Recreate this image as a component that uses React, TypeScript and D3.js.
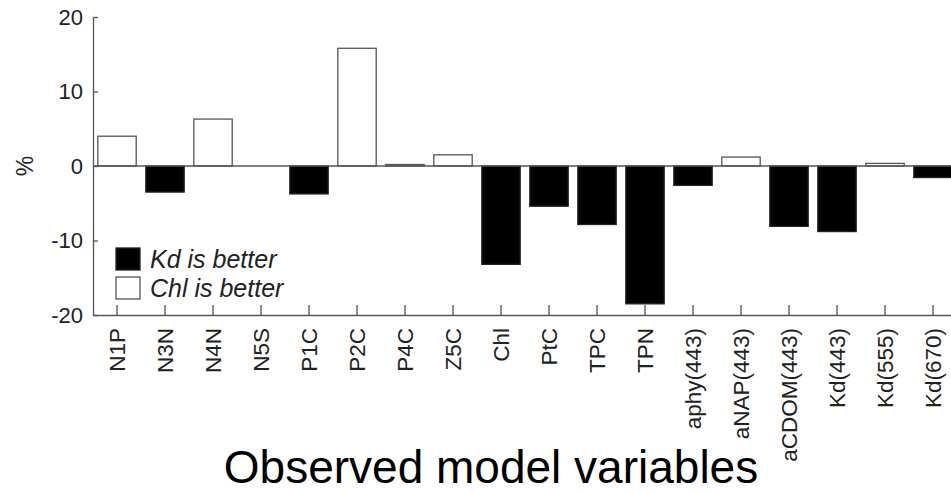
import React, { useRef, useEffect } from 'react';
import * as d3 from 'd3';

const categories = [
  'N1P', 'N3N', 'N4N', 'N5S', 'P1C', 'P2C', 'P4C', 'Z5C', 'Chl', 'PtC',
  'TPC', 'TPN', 'aphy(443)', 'aNAP(443)', 'aCDOM(443)', 'Kd(443)', 'Kd(555)', 'Kd(670)',
];
const values = [
  4.0, -3.5, 6.3, 0, -3.75, 15.8, 0.2, 1.5, -13.2, -5.4,
  -7.85, -18.5, -2.6, 1.2, -8.1, -8.8, 0.35, -1.55,
];
const yTicks = [-20, -10, 0, 10, 20];
const legendLabels = ['Kd is better', 'Chl is better'];

const W = 951;
const H = 493;
const margin = { top: 17, right: -6, bottom: 178, left: 93 };

const App = () => {
  const svgRef = useRef<SVGSVGElement>(null);

  useEffect(() => {
    document.body.style.margin = '0';
    const svg = d3.select(svgRef.current);
    svg.selectAll('*').remove();

    const innerW = W - margin.left - margin.right;
    const innerH = H - margin.top - margin.bottom;
    const axisColor = '#555';
    const font = 'Arial, "Liberation Sans", Helvetica, sans-serif';

    const x = d3.scaleBand<string>()
      .domain(categories)
      .range([0, innerW])
      .paddingInner(0.2)
      .paddingOuter(0.1);

    const y = d3.scaleLinear().domain([-20, 20]).range([innerH, 0]);

    const g = svg.append('g').attr('transform', `translate(${margin.left},${margin.top})`);

    // bars
    g.selectAll('.bar')
      .data(values)
      .enter().append('rect')
      .attr('class', 'bar')
      .attr('x', (_, i) => x(categories[i])!)
      .attr('width', x.bandwidth())
      .attr('y', d => y(Math.max(0, d)))
      .attr('height', d => Math.abs(y(d) - y(0)))
      .attr('fill', d => (d < 0 ? '#000' : '#fff'))
      .attr('stroke', d => (d < 0 ? '#222' : '#555'))
      .attr('stroke-width', 1.3);

    // zero line
    g.append('line')
      .attr('x1', 0).attr('x2', innerW)
      .attr('y1', y(0)).attr('y2', y(0))
      .attr('stroke', axisColor).attr('stroke-width', 1.3);

    // y axis, ticks pointing inward
    const yAxis = g.append('g')
      .call(d3.axisRight(y).tickValues(yTicks).tickSize(5).tickSizeOuter(0).tickFormat(() => ''));
    yAxis.select('.domain').attr('stroke', axisColor).attr('stroke-width', 1.3);
    yAxis.selectAll('line').attr('stroke', axisColor).attr('stroke-width', 1.3);

    g.selectAll('.ylab')
      .data(yTicks)
      .enter().append('text')
      .attr('class', 'ylab')
      .attr('x', -10)
      .attr('y', d => y(d))
      .attr('dy', '0.36em')
      .attr('text-anchor', 'end')
      .attr('font-family', font)
      .attr('font-size', 22)
      .attr('fill', '#222')
      .text(d => String(d));

    // x axis at bottom, ticks pointing up
    const xAxis = g.append('g')
      .attr('transform', `translate(0,${innerH})`)
      .call(d3.axisTop(x).tickSize(10).tickSizeOuter(0).tickFormat(() => ''));
    xAxis.select('.domain').attr('stroke', axisColor).attr('stroke-width', 1.3);
    xAxis.selectAll('line').attr('stroke', axisColor).attr('stroke-width', 1.3);

    g.selectAll('.xlab')
      .data(categories)
      .enter().append('text')
      .attr('class', 'xlab')
      .attr('transform', d => `translate(${x(d)! + x.bandwidth() / 2},${innerH + 13}) rotate(-90)`)
      .attr('dy', '0.36em')
      .attr('text-anchor', 'end')
      .attr('font-family', font)
      .attr('font-size', 22.5)
      .attr('fill', '#222')
      .text(d => d);

    // y label
    svg.append('text')
      .attr('transform', `translate(25,${margin.top + y(0)}) rotate(-90)`)
      .attr('dy', '0.36em')
      .attr('text-anchor', 'middle')
      .attr('font-family', font)
      .attr('font-size', 23)
      .attr('fill', '#222')
      .text('%');

    // x title
    svg.append('text')
      .attr('x', 491)
      .attr('y', 483)
      .attr('text-anchor', 'middle')
      .attr('font-family', font)
      .attr('font-size', 46)
      .attr('fill', '#000')
      .text('Observed model variables');

    // legend
    const lg = svg.append('g').attr('transform', 'translate(116,248)');
    legendLabels.forEach((label, i) => {
      lg.append('rect')
        .attr('x', 0).attr('y', i * 29)
        .attr('width', 24).attr('height', 22)
        .attr('fill', i === 0 ? '#000' : '#fff')
        .attr('stroke', i === 0 ? '#222' : '#555')
        .attr('stroke-width', 1.3);
      lg.append('text')
        .attr('x', 34).attr('y', i * 29 + 20)
        .attr('font-family', font)
        .attr('font-style', 'italic')
        .attr('font-size', 25)
        .attr('fill', '#222')
        .text(label);
    });
  }, []);

  return <svg ref={svgRef} width={W} height={H} style={{ display: 'block', background: '#fff' }} />;
};

export default App;
